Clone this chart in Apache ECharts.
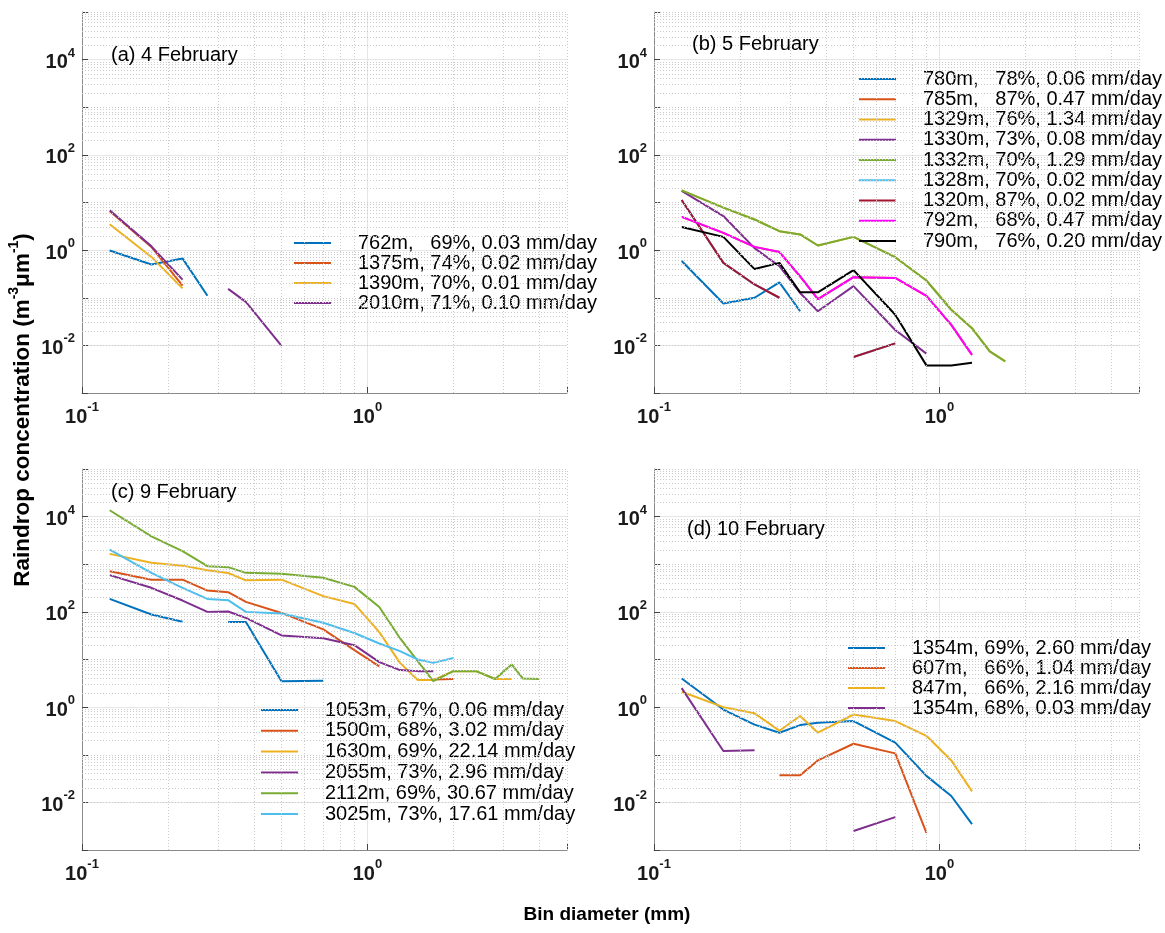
<!DOCTYPE html>
<html><head><meta charset="utf-8">
<script src="https://cdn.jsdelivr.net/npm/echarts@6/dist/echarts.min.js"></script>
<style>html,body{margin:0;padding:0;background:#fff}#c{width:1165px;height:933px}</style>
</head><body><div id="c"></div>
<script>
// ---------------- DATA ----------------
// bin diameters (mm)
const diam = [0.125, 0.175, 0.225, 0.275, 0.325, 0.375, 0.5, 0.7, 0.9, 1.1, 1.3, 1.5, 1.7, 2.0, 2.4, 2.8, 3.2, 3.5, 4.0];

// (a) 4 February
const namesA = ['762m,   69%, 0.03 mm/day', '1375m, 74%, 0.02 mm/day', '1390m, 70%, 0.01 mm/day', '2010m, 71%, 0.10 mm/day'];
const a762  = [0.98, 0.5, 0.67, 0.11];
const a1375 = [6.6, 1.17, 0.18];
const a1390 = [3.5, 0.72, 0.157];
const a2010 = [6.9, 1.2, 0.24, null, 0.154, 0.082, 0.0098];

// (b) 5 February
const namesB = ['780m,   78%, 0.06 mm/day', '785m,   87%, 0.47 mm/day', '1329m, 76%, 1.34 mm/day', '1330m, 73%, 0.08 mm/day', '1332m, 70%, 1.29 mm/day', '1328m, 70%, 0.02 mm/day', '1320m, 87%, 0.02 mm/day', '792m,   68%, 0.47 mm/day', '790m,   76%, 0.20 mm/day'];
const b780  = [0.59, 0.076, 0.10, 0.21, 0.052];
const b785  = [5.0, 2.3, 1.17, 0.91, 0.28, 0.094, 0.27, 0.26, 0.11, 0.027, 0.0063];
const b1329 = [18, 7.8, 4.4, 2.5, 2.14, 1.25, 1.9, 0.71, 0.23, 0.056, 0.023, 0.0075, 0.0046];
const b1330 = [17.5, 5.2, 1.1, 0.46, 0.126, 0.052, 0.175, 0.021, 0.0067];
const b1332 = [18, 7.8, 4.4, 2.5, 2.14, 1.25, 1.9, 0.71, 0.23, 0.056, 0.023, 0.0075, 0.0046];
const b1328 = [11.3, 0.54, 0.19, 0.1, null, null, 0.0057, 0.011];
const b1320 = [11.3, 0.54, 0.19, 0.1, null, null, 0.0057, 0.011];
const b792  = [5.0, 2.3, 1.17, 0.91, 0.28, 0.094, 0.27, 0.26, 0.11, 0.027, 0.0063];
const b790  = [3.05, 1.9, 0.40, 0.54, 0.13, 0.13, 0.38, 0.044, 0.0038, 0.0038, 0.0043];

// (c) 9 February
const namesC = ['1053m, 67%, 0.06 mm/day', '1500m, 68%, 3.02 mm/day', '1630m, 69%, 22.14 mm/day', '2055m, 73%, 2.96 mm/day', '2112m, 69%, 30.67 mm/day', '3025m, 73%, 17.61 mm/day'];
const c1053 = [187, 88, 62, null, 61, 61, 3.5, 3.6];
const c1500 = [715, 475, 475, 280, 259, 162, 95, 43, 15.7, 7.2, null, null, 3.8, 3.9];
const c1630 = [1650, 1070, 935, 750, 655, 460, 475, 214, 147, 37.5, 8.5, 3.7, 3.7, 5.7, 5.7, 3.9, 3.9];
const c2055 = [590, 320, 173, 100, 102, 75, 32, 28, 20, 8.8, 6.0, 5.7, 5.7];
const c2112 = [13600, 3850, 1880, 910, 870, 660, 630, 520, 335, 127, 28, 9.2, 3.5, 5.7, 5.7, 3.9, 7.9, 4.0, 3.9];
const c3025 = [2040, 660, 320, 187, 176, 100, 92, 59, 36, 21.7, 15, 10, 8.5, 10.8];

// (d) 10 February
const namesD = ['1354m, 69%, 2.60 mm/day', '607m,   66%, 1.04 mm/day', '847m,   66%, 2.16 mm/day', '1354m, 68%, 0.03 mm/day'];
const d1354a = [4.0, 0.89, 0.43, 0.29, 0.42, 0.47, 0.51, 0.18, 0.036, 0.0136, 0.0035];
const d607   = [null, null, null, 0.037, 0.037, 0.076, 0.17, 0.107, 0.0023];
const d847   = [2.1, 1.0, 0.74, 0.32, 0.65, 0.29, 0.70, 0.51, 0.25, 0.076, 0.017];
const d1354b = [2.5, 0.12, 0.125, null, null, null, 0.0025, 0.0049];

const panelTitles = ['(a) 4 February', '(b) 5 February', '(c) 9 February', '(d) 10 February'];
const xTitle = 'Bin diameter (mm)';

// axis ranges and minor grid values
const xMin = 0.1, xMax = 5, yMin = 0.001, yMax = 100000;
const xMinor = [0.2, 0.3, 0.4, 0.5, 0.6, 0.7, 0.8, 0.9, 2, 3, 4, 5];
const yMinorMant = [2, 3, 4, 5, 6, 7, 8, 9];
const yExps = [-3, -2, -1, 0, 1, 2, 3, 4];
const yOddDecades = [0.1, 10, 1000, 100000];

// ---------------- STYLE ----------------
const FONT = '"Liberation Sans", Arial, Helvetica, sans-serif';
const C = {blue:'#0072BD', orange:'#D95319', yellow:'#EDB120', purple:'#7E2F8E', green:'#77AC30', cyan:'#4DBEEE', dred:'#A2142F', mag:'#FF00FF', black:'#000000'};

const panels = [
  {names: namesA, values: [a762, a1375, a1390, a2010], colors: [C.blue, C.orange, C.yellow, C.purple],
   grid: {left: 82, top: 12, width: 485, height: 381}, leg: {left: 294, top: 233, gap: 0}, title: [111, 55]},
  {names: namesB, values: [b780, b785, b1329, b1330, b1332, b1328, b1320, b792, b790],
   colors: [C.blue, C.orange, C.yellow, C.purple, C.green, C.cyan, C.dred, C.mag, C.black],
   grid: {left: 654, top: 12, width: 485, height: 381}, leg: {left: 859, top: 69, gap: 0.25}, title: [692, 44]},
  {names: namesC, values: [c1053, c1500, c1630, c2055, c2112, c3025],
   colors: [C.blue, C.orange, C.yellow, C.purple, C.green, C.cyan],
   grid: {left: 82, top: 469, width: 485, height: 381}, leg: {left: 261, top: 700, gap: 0.8}, title: [111, 492]},
  {names: namesD, values: [d1354a, d607, d847, d1354b], colors: [C.blue, C.orange, C.yellow, C.purple],
   grid: {left: 654, top: 469, width: 485, height: 381}, leg: {left: 848, top: 638, gap: 0}, title: [687, 529]}
];

const rich = {
  b: {fontSize: 20, fontWeight: 'bold', color: '#1a1a1a', fontFamily: FONT, lineHeight: 26, verticalAlign: 'bottom'},
  s: {fontSize: 13, fontWeight: 'bold', color: '#1a1a1a', fontFamily: FONT, lineHeight: 11, verticalAlign: 'top'}
};
function expLabel(v, allowed) {
  const l = Math.log10(v); const e = Math.round(l);
  if (Math.abs(l - e) > 1e-6 || allowed.indexOf(e) < 0) return '';
  return '{b|10}{s|' + e + '}';
}

const grid = [], xAxis = [], yAxis = [], series = [], legend = [], graphic = [];
const yMinor = [];
yExps.forEach(e => yMinorMant.forEach(m => yMinor.push(m * Math.pow(10, e))));
yOddDecades.forEach(v => yMinor.push(v));

panels.forEach((p, i) => {
  grid.push(Object.assign({containLabel: false}, p.grid));
  xAxis.push({
    type: 'log', logBase: 10, gridIndex: i, min: xMin, max: xMax, interval: 1,
    axisLine: {show: true, lineStyle: {color: '#8a8a8a', width: 1}},
    axisTick: {show: true, inside: true, length: 6, lineStyle: {color: '#444'}},
    axisLabel: {margin: 8, formatter: v => expLabel(v, [-1, 0]), rich: rich},
    splitLine: {show: true, lineStyle: {color: ['rgba(0,0,0,0)', '#e6e6e6', 'rgba(0,0,0,0)'], width: 1}}
  });
  yAxis.push({
    type: 'log', logBase: 10, gridIndex: i, min: yMin, max: yMax, interval: 1,
    axisLine: {show: true, lineStyle: {color: '#8a8a8a', width: 1}},
    axisTick: {show: true, inside: true, length: 6, lineStyle: {color: '#444'}},
    axisLabel: {margin: 7, formatter: v => expLabel(v, [-2, 0, 2, 4]), rich: rich},
    splitLine: {show: true, lineStyle: {color: ['rgba(0,0,0,0)', '#e6e6e6'], width: 1}}
  });
  // minor dotted grid
  series.push({
    type: 'line', xAxisIndex: i, yAxisIndex: i, data: [], silent: true, z: 1,
    markLine: {
      silent: true, symbol: ['none', 'none'], animation: false, label: {show: false},
      lineStyle: {type: [1, 2], color: '#cacaca', width: 1},
      emphasis: {disabled: true},
      data: xMinor.map(v => ({xAxis: v})).concat(yMinor.map(v => ({yAxis: v})))
    }
  });
  p.values.forEach((vals, k) => {
    series.push({
      type: 'line', name: p.names[k], xAxisIndex: i, yAxisIndex: i, z: 3,
      symbol: 'none', connectNulls: false, animation: false,
      lineStyle: {color: p.colors[k], width: 2},
      itemStyle: {color: p.colors[k]},
      emphasis: {disabled: true},
      data: vals.map((v, j) => [diam[j], v == null ? '-' : v])
    });
  });
  legend.push({
    data: p.names, left: p.leg.left, top: p.leg.top, orient: 'vertical',
    icon: 'rect', itemWidth: 37, itemHeight: 2, itemGap: p.leg.gap, selectedMode: false,
    padding: 0,
    textStyle: {fontSize: 20, lineHeight: 20, color: '#000', fontFamily: FONT, padding: [0, 0, 0, 22]}
  });
  graphic.push({type: 'text', x: p.title[0], y: p.title[1], z: 10,
    style: {text: panelTitles[i], fontSize: 20, fontFamily: FONT, fill: '#000', verticalAlign: 'middle'}});
});

graphic.push({type: 'text', x: 607, y: 915,
  style: {text: xTitle, fontSize: 19, fontWeight: 'bold', fontFamily: FONT, fill: '#000', align: 'center', verticalAlign: 'middle'}});
graphic.push({type: 'text', x: 21, y: 410, rotation: Math.PI / 2,
  style: {text: '{a|Raindrop concentration (m}{s|-3}{a|μm}{s|-1}{a|)}', align: 'center', verticalAlign: 'middle',
    rich: {
      a: {fontSize: 22.5, fontWeight: 'bold', fontFamily: FONT, fill: '#000', lineHeight: 27, verticalAlign: 'bottom'},
      s: {fontSize: 14, fontWeight: 'bold', fontFamily: FONT, fill: '#000', lineHeight: 13, verticalAlign: 'top'}
    }}});

const chart = echarts.init(document.getElementById('c'), null, {renderer: 'canvas'});
chart.setOption({
  animation: false, backgroundColor: '#fff',
  textStyle: {fontFamily: FONT},
  grid, xAxis, yAxis, series, legend, graphic
});
</script></body></html>
